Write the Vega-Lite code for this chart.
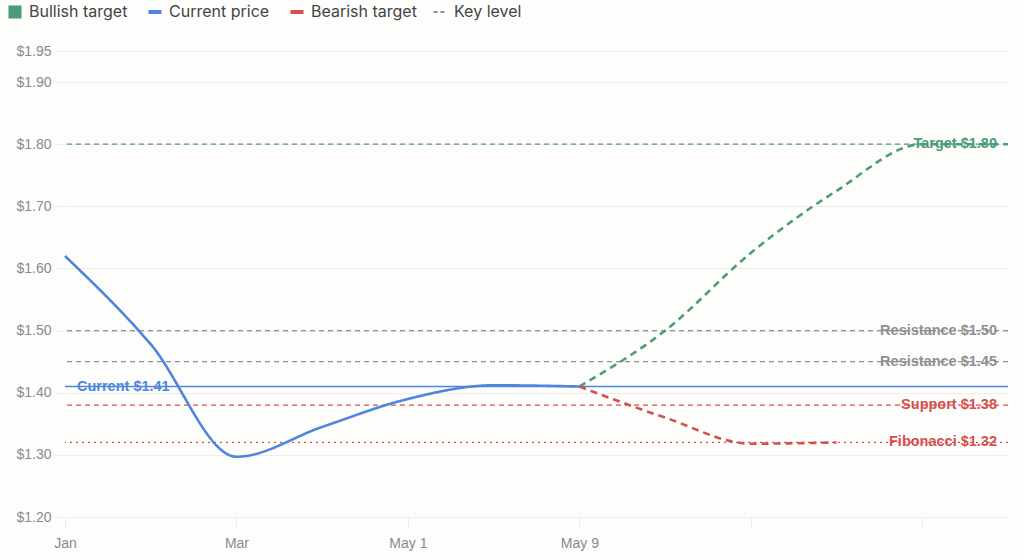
{
  "$schema": "https://vega.github.io/schema/vega-lite/v6.json",
  "width": 943,
  "height": 466,
  "autosize": {"type": "none"},
  "padding": {"left": 65, "top": 51, "right": 16, "bottom": 43},
  "background": "#fdfdfc",
  "config": {
    "view": {"stroke": null},
    "font": "Liberation Sans",
    "axis": {
      "gridColor": "#ececec",
      "gridWidth": 1,
      "tickColor": "#ececec",
      "tickSize": 10,
      "domain": false,
      "labelColor": "#8a8a8a",
      "labelFontSize": 14,
      "labelFont": "Liberation Sans",
      "title": null
    }
  },
  "datasets": {
    "series": [
      {"idx": 0, "price": 1.62, "series": "Current price"},
      {"idx": 1, "price": 1.478, "series": "Current price"},
      {"idx": 2, "price": 1.297, "series": "Current price"},
      {"idx": 3, "price": 1.345, "series": "Current price"},
      {"idx": 4, "price": 1.39, "series": "Current price"},
      {"idx": 5, "price": 1.412, "series": "Current price"},
      {"idx": 6, "price": 1.41, "series": "Current price"},
      {"idx": 6, "price": 1.41, "series": "Bullish target"},
      {"idx": 7, "price": 1.5, "series": "Bullish target"},
      {"idx": 8, "price": 1.625, "series": "Bullish target"},
      {"idx": 9, "price": 1.725, "series": "Bullish target"},
      {"idx": 10, "price": 1.8, "series": "Bullish target"},
      {"idx": 11, "price": 1.8, "series": "Bullish target"},
      {"idx": 6, "price": 1.41, "series": "Bearish target"},
      {"idx": 7, "price": 1.36, "series": "Bearish target"},
      {"idx": 8, "price": 1.318, "series": "Bearish target"},
      {"idx": 9, "price": 1.32, "series": "Bearish target"}
    ],
    "levels": [
      {"level": 1.8, "label": "Target $1.80", "group": "Bullish target", "style": "target"},
      {"level": 1.5, "label": "Resistance $1.50", "group": "Key level", "style": "resistance"},
      {"level": 1.45, "label": "Resistance $1.45", "group": "Key level", "style": "resistance"},
      {"level": 1.41, "label": "Current $1.41", "group": "Current price", "style": "current"},
      {"level": 1.38, "label": "Support $1.38", "group": "Bearish target", "style": "support"},
      {"level": 1.32, "label": "Fibonacci $1.32", "group": "Bearish target", "style": "fibonacci"}
    ]
  },
  "resolve": {"scale": {"strokeDash": "independent", "strokeWidth": "independent"}},
  "layer": [
    {
      "data": {"name": "levels"},
      "transform": [{"filter": "datum.style !== 'current'"}],
      "mark": {"type": "text", "align": "right", "baseline": "middle", "dx": -11, "fontWeight": "bold", "fontSize": 14.5},
      "encoding": {
        "x": {"datum": 11, "type": "quantitative", "scale": {"domain": [0, 11], "nice": false}},
        "y": {"field": "level", "type": "quantitative"},
        "text": {"field": "label"},
        "color": {"field": "group", "type": "nominal"}
      }
    },
    {
      "data": {"name": "levels"},
      "transform": [{"filter": "datum.style === 'current'"}],
      "mark": {"type": "text", "align": "left", "baseline": "middle", "dx": 12, "fontWeight": "bold", "fontSize": 14.5},
      "encoding": {
        "x": {"datum": 0, "type": "quantitative"},
        "y": {"field": "level", "type": "quantitative"},
        "text": {"field": "label"},
        "color": {"field": "group", "type": "nominal"}
      }
    },
    {
      "data": {"name": "levels"},
      "mark": {"type": "rule"},
      "encoding": {
        "y": {"field": "level", "type": "quantitative"},
        "color": {"field": "group", "type": "nominal"},
        "strokeDash": {
          "field": "style", "type": "nominal", "legend": null,
          "scale": {"domain": ["target", "resistance", "current", "support", "fibonacci"], "range": [[5, 4], [5, 4], [1, 0], [5, 4], [2, 4]]}
        },
        "strokeWidth": {
          "field": "style", "type": "nominal", "legend": null,
          "scale": {"domain": ["target", "resistance", "current", "support", "fibonacci"], "range": [1.3, 1.3, 2.2, 1.3, 1.6]}
        }
      }
    },
    {
      "data": {"name": "series"},
      "mark": {"type": "line", "interpolate": "monotone", "strokeCap": "butt"},
      "encoding": {
        "x": {
          "field": "idx", "type": "quantitative",
          "scale": {"domain": [0, 11], "nice": false},
          "axis": {
            "values": [0, 2, 4, 6, 8, 10],
            "labelExpr": "datum.value === 0 ? 'Jan' : datum.value === 2 ? 'Mar' : datum.value === 4 ? 'May 1' : datum.value === 6 ? 'May 9' : ''",
            "labelPadding": 9,
            "labelFlush": false,
            "ticks": true
          }
        },
        "y": {
          "field": "price", "type": "quantitative",
          "scale": {"domain": [1.2, 1.95], "nice": false, "zero": false},
          "axis": {"values": [1.2, 1.3, 1.4, 1.5, 1.6, 1.7, 1.8, 1.9, 1.95], "format": "$.2f", "labelPadding": 4, "labelFlush": false}
        },
        "color": {
          "field": "series", "type": "nominal",
          "scale": {
            "domain": ["Bullish target", "Current price", "Bearish target", "Key level"],
            "range": ["#4b9c77", "#4f86dc", "#d5504d", "#8f8f8f"]
          },
          "legend": {
            "title": null,
            "orient": "none",
            "legendX": -58,
            "legendY": -47,
            "direction": "horizontal",
            "labelFont": "Inter",
            "labelFontSize": 16,
            "labelColor": "#444444",
            "symbolSize": 170,
            "symbolStrokeWidth": 4,
            "columnPadding": 12,
            "labelOffset": 6,
            "values": ["Bullish target", "Current price", "Bearish target", "Key level"],
            "encode": {
              "symbols": {
                "update": {
                  "shape": {"signal": "datum.value === 'Bullish target' ? 'square' : 'stroke'"},
                  "fill": {"scale": "color", "field": "value"},
                  "stroke": {"scale": "color", "field": "value"},
                  "strokeWidth": {"signal": "datum.value === 'Bullish target' ? 0 : datum.value === 'Key level' ? 2 : 4"},
                  "strokeDash": {"signal": "datum.value === 'Key level' ? [4, 3] : [1, 0]"}
                }
              }
            }
          }
        },
        "strokeDash": {
          "field": "series", "type": "nominal", "legend": null,
          "scale": {"domain": ["Current price", "Bullish target", "Bearish target"], "range": [[1, 0], [7, 5], [7, 5]]}
        },
        "strokeWidth": {
          "field": "series", "type": "nominal", "legend": null,
          "scale": {"domain": ["Current price", "Bullish target", "Bearish target"], "range": [2.6, 2.6, 2.6]}
        }
      }
    }
  ]
}
